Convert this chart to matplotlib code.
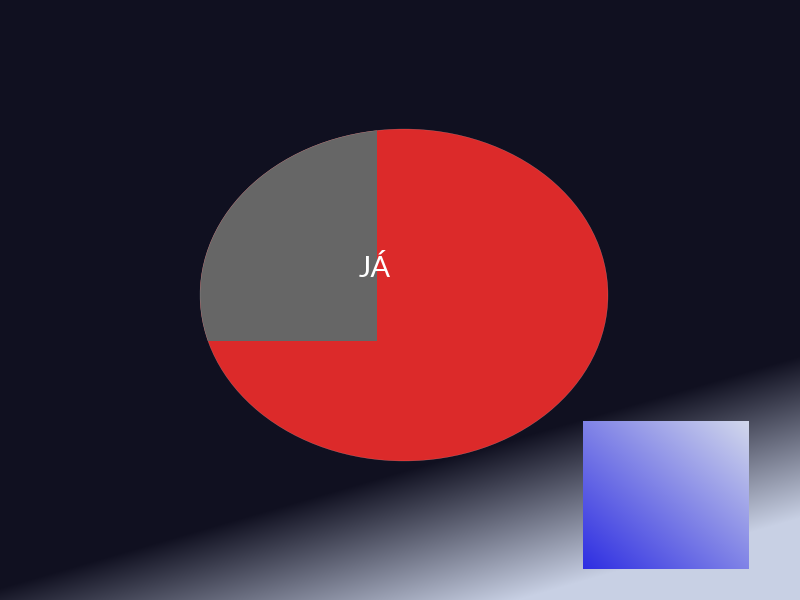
import numpy as np
import matplotlib
matplotlib.use("Agg")
import matplotlib.pyplot as plt
from matplotlib.patches import Ellipse, Rectangle

# ---- content ----
labels = ["JÁ"]
ellipse_xy = [404, 295]
ellipse_size = [408, 332]
grey_box = [200, 120, 377, 341]      # x0, y0, x1, y1 (clipped to the ellipse)
blue_box = [583, 421, 749, 569]

bg_dark = np.array([16, 16, 32]) / 255
bg_light = np.array([200, 208, 228]) / 255
sq_dark = np.array([46, 46, 226]) / 255
sq_light = np.array([210, 216, 236]) / 255

W, H = 800, 600
fig = plt.figure(figsize=(8, 6), dpi=100)
ax = fig.add_axes([0, 0, 1, 1])
ax.set_xlim(0, W)
ax.set_ylim(H, 0)
ax.axis("off")

# background gradient
yy, xx = np.mgrid[0:H, 0:W] + 0.5
s = yy + 0.29 * xx
t = np.clip((s - 588) / 162, 0, 1)
bg = bg_dark[None, None, :] * (1 - t[..., None]) + bg_light[None, None, :] * t[..., None]
ax.imshow(bg, extent=[0, W, H, 0], zorder=0, interpolation="bilinear")

# ellipse
ell = Ellipse(ellipse_xy, ellipse_size[0], ellipse_size[1], facecolor="#dc2a2a",
              edgecolor="none", zorder=2)
ax.add_patch(ell)
gx0, gy0, gx1, gy1 = grey_box
grey = Rectangle((gx0, gy0), gx1 - gx0, gy1 - gy0, facecolor="#666666",
                 edgecolor="none", zorder=3)
ax.add_patch(grey)
grey.set_clip_path(ell)
rim = Ellipse(ellipse_xy, ellipse_size[0], ellipse_size[1], facecolor="none",
              edgecolor=(1, 1, 1, 0.3), linewidth=0.3, zorder=3.5)
ax.add_patch(rim)

ax.text(375, 277, labels[0], color="white", fontsize=21, ha="center", va="baseline",
        family=["Lato", "DejaVu Sans"], zorder=5)

# blue gradient square
bx0, by0, bx1, by1 = blue_box
n = 200
v, u = np.mgrid[0:n, 0:n] / (n - 1)
tt = np.clip((u + (1 - v)) / 2, 0, 1)
sq = sq_dark[None, None, :] * (1 - tt[..., None]) + sq_light[None, None, :] * tt[..., None]
ax.imshow(sq, extent=[bx0, bx1, by1, by0], zorder=4, interpolation="bilinear")

ax.set_xlim(0, W)
ax.set_ylim(H, 0)
fig.savefig("out.png", dpi=100)
